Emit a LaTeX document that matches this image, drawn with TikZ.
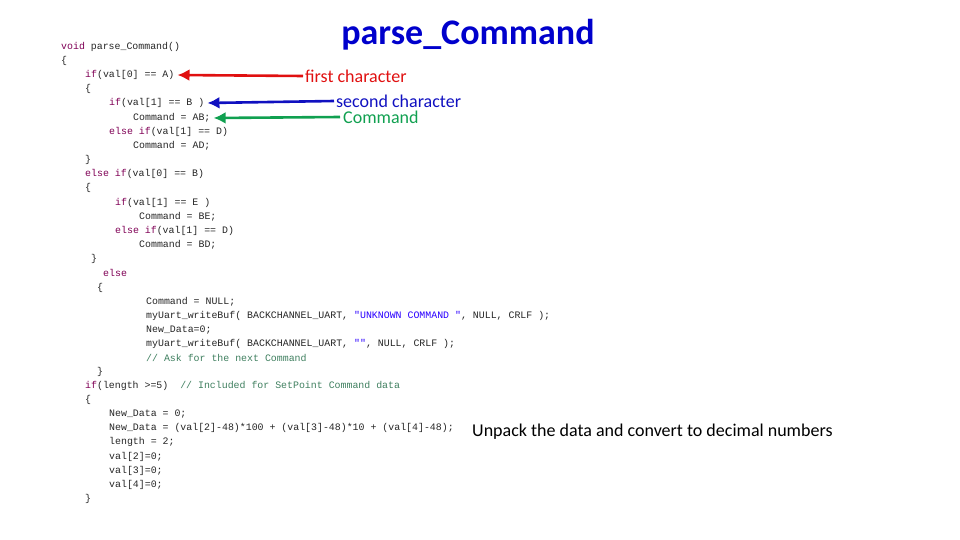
\documentclass[tikz,border=0pt]{standalone}
\usepackage{fontspec}
\setmonofont{Liberation Mono}
\newfontfamily\carlfont{Carlito}
\usetikzlibrary{arrows.meta}
\definecolor{kw}{HTML}{7F0055}
\definecolor{cm}{HTML}{3F7F5F}
\definecolor{st}{HTML}{2A00FF}
\definecolor{tblue}{HTML}{0000CC}
\definecolor{ared}{HTML}{E01010}
\definecolor{ablue}{HTML}{1010C0}
\definecolor{agreen}{HTML}{10A050}
\newcommand{\kwc}[1]{\textcolor{kw}{#1}}
\newcommand{\cmc}[1]{\textcolor{cm}{#1}}
\newcommand{\stc}[1]{\textcolor{st}{#1}}
\begin{document}
\begin{tikzpicture}[x=1pt,y=-1pt,
 code/.style={anchor=west,inner sep=0pt,font=\ttfamily\fontsize{9.9}{11}\selectfont,text=black!85},
 lbl/.style={anchor=west,inner sep=0pt,font=\carlfont\fontsize{18}{20}\selectfont},
 arr/.style={line width=2.6pt,-{Latex[length=12pt,width=12pt]}}]
\useasboundingbox (0,0) rectangle (960,540);
\node[anchor=center,inner sep=0pt,text=tblue,font=\carlfont\bfseries\fontsize{36}{40}\selectfont] (title) at (468,35) {parse\_Command};
\node[code] (l1) at (61,47) {\kwc{void} parse\_Command()};
\node[code] (l2) at (61,61) {\{};
\node[code] (l3) at (85,75) {\kwc{if}(val[0] == A)};
\node[code] (l4) at (85,89) {\{};
\node[code] (l5) at (109,103) {\kwc{if}(val[1] == B )};
\node[code] (l6) at (133,118) {Command = AB;};
\node[code] (l7) at (109,132) {\kwc{else} \kwc{if}(val[1] == D)};
\node[code] (l8) at (133,146) {Command = AD;};
\node[code] (l9) at (85,160) {\}};
\node[code] (l10) at (85,174) {\kwc{else} \kwc{if}(val[0] == B)};
\node[code] (l11) at (85,188) {\{};
\node[code] (l12) at (115,203) {\kwc{if}(val[1] == E )};
\node[code] (l13) at (139,217) {Command = BE;};
\node[code] (l14) at (115,231) {\kwc{else} \kwc{if}(val[1] == D)};
\node[code] (l15) at (139,245) {Command = BD;};
\node[code] (l16) at (91,259) {\}};
\node[code] (l17) at (103,273) {\kwc{else}};
\node[code] (l18) at (97,288) {\{};
\node[code] (l19) at (146,302) {Command = NULL;};
\node[code] (l20) at (146,316) {myUart\_writeBuf( BACKCHANNEL\_UART, \stc{"UNKNOWN COMMAND "}, NULL, CRLF );};
\node[code] (l21) at (146,330) {New\_Data=0;};
\node[code] (l22) at (146,344) {myUart\_writeBuf( BACKCHANNEL\_UART, \stc{""}, NULL, CRLF );};
\node[code] (l23) at (146,358) {\cmc{// Ask for the next Command}};
\node[code] (l24) at (97,372) {\}};
\node[code] (l25) at (85,386) {\kwc{if}(length >=5)~~\cmc{// Included for SetPoint Command data}};
\node[code] (l26) at (85,400) {\{};
\node[code] (l27) at (109,414) {New\_Data = 0;};
\node[code] (l28) at (109,428) {New\_Data = (val[2]-48)*100 + (val[3]-48)*10 + (val[4]-48);};
\node[code] (l29) at (109,442) {length = 2;};
\node[code] (l30) at (109,457) {val[2]=0;};
\node[code] (l31) at (109,471) {val[3]=0;};
\node[code] (l32) at (109,485) {val[4]=0;};
\node[code] (l33) at (85,499) {\}};
\node[lbl,text=ared] (first) at (305,76) {first character};
\node[lbl,text=ablue] (second) at (336,101) {second character};
\node[lbl,text=agreen] (cmd) at (343,117) {Command};
\node[lbl,text=black] (unpack) at (472,432) {Unpack the data and convert to decimal numbers};
\draw[arr,ared] ([xshift=-2pt]first.west) -- ([xshift=3pt]l3.east);
\draw[arr,ablue] ([xshift=-2pt]second.west) -- ([xshift=3pt]l5.east);
\draw[arr,agreen] ([xshift=-3pt]cmd.west) -- ([xshift=3pt]l6.east);
\end{tikzpicture}
\end{document}
